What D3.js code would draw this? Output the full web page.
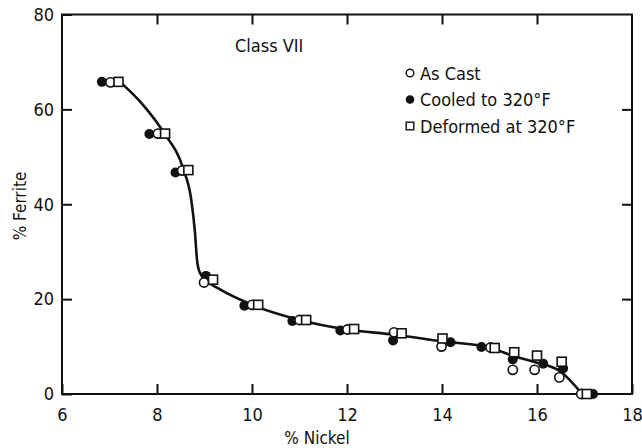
<!DOCTYPE html>
<html>
<head>
<meta charset="utf-8">
<script src="https://cdn.jsdelivr.net/npm/d3@7"></script>
<style>
  html, body { margin: 0; padding: 0; background: #fff; }
  svg { display: block; }
  text { font-family: "Liberation Sans Narrow", "DejaVu Sans Condensed", "Roboto Condensed", sans-serif; fill: #111; }
</style>
</head>
<body>
<svg id="chart" width="642" height="448"></svg>
<script>
// Ferrite content vs nickel content, Class VII alloys
const xTicks = [6, 8, 10, 12, 14, 16, 18];
const yTicks = [0, 20, 40, 60, 80];

// As cast
const asCastNi = [7.02, 8.02, 8.53, 8.99, 10.0, 11.0, 12.01, 12.99, 13.99, 15.02, 15.49, 15.95, 16.47, 16.93];
const asCastFe = [65.7, 54.9, 47.1, 23.5, 18.8, 15.6, 13.6, 13.0, 10.0, 9.8, 5.1, 5.1, 3.5, 0];

// Cooled to 320°F
const cooledNi = [6.84, 7.84, 8.39, 9.03, 9.84, 10.85, 11.86, 12.97, 14.18, 14.83, 15.49, 16.13, 16.55, 17.18];
const cooledFe = [65.8, 54.8, 46.7, 24.9, 18.6, 15.4, 13.4, 11.3, 10.9, 9.9, 7.3, 6.4, 5.4, 0];

// Deformed at 320°F
const deformedNi = [7.19, 8.17, 8.66, 9.18, 10.13, 11.14, 12.15, 13.15, 14.01, 15.11, 15.52, 16.0, 16.52, 17.05];
const deformedFe = [65.8, 54.9, 47.2, 24.1, 18.8, 15.6, 13.7, 12.8, 11.7, 9.7, 8.8, 8.1, 6.8, 0];

// Fitted trend curve
const curveNi = [7.2, 7.7, 8.15, 8.55, 8.72, 8.8, 8.84, 8.9, 9.05, 9.3, 10.0, 11.0, 12.0, 13.0, 14.0, 15.0, 15.5, 16.0, 16.5, 16.95];
const curveFe = [66, 61, 55, 47.5, 41, 34, 28.5, 25.6, 23.8, 22.2, 18.8, 15.6, 13.6, 12.5, 11.1, 9.8, 8.0, 6.6, 4.7, 0];

const svg = d3.select("#chart");
const plotL = 62, plotR = 632, plotT = 14.5, plotB = 394;

const x = d3.scaleLinear().domain([6, 18]).range([plotL, plotR]);
const y = d3.scaleLinear().domain([0, 80]).range([plotB, plotT]);

const tickLen = 10;

// frame
svg.append("rect")
  .attr("x", plotL).attr("y", plotT)
  .attr("width", plotR - plotL).attr("height", plotB - plotT)
  .attr("fill", "none").attr("stroke", "#111").attr("stroke-width", 2);

// inward ticks on all four sides, labels on bottom and left
const bottomAxis = d3.axisBottom(x).tickValues(xTicks).tickSizeInner(-tickLen).tickSizeOuter(0).tickPadding(14)
  .tickFormat(d3.format("d"));
const topAxis = d3.axisTop(x).tickValues(xTicks.slice(1, -1)).tickSizeInner(-tickLen).tickSizeOuter(0).tickFormat("");
const leftAxis = d3.axisLeft(y).tickValues(yTicks).tickSizeInner(-tickLen).tickSizeOuter(0).tickPadding(8)
  .tickFormat(d3.format("d"));
const rightAxis = d3.axisRight(y).tickValues(yTicks.slice(1, -1)).tickSizeInner(-tickLen).tickSizeOuter(0).tickFormat("");

function styleAxis(g) {
  g.select(".domain").remove();
  g.selectAll(".tick line").attr("stroke", "#111").attr("stroke-width", 2);
  g.selectAll(".tick text").attr("fill", "#111").style("font-size", "18px");
}

svg.append("g").attr("transform", `translate(0,${plotB})`).call(bottomAxis).call(styleAxis);
svg.append("g").attr("transform", `translate(0,${plotT})`).call(topAxis).call(styleAxis);
svg.append("g").attr("transform", `translate(${plotL},0)`).call(leftAxis).call(styleAxis);
svg.append("g").attr("transform", `translate(${plotR},0)`).call(rightAxis).call(styleAxis);

// axis titles
svg.append("text")
  .attr("x", (plotL + plotR) / 2 - 30).attr("y", 444)
  .attr("text-anchor", "middle").style("font-size", "17px")
  .text("% Nickel");
svg.append("text")
  .attr("transform", `translate(26,206) rotate(-90)`)
  .attr("text-anchor", "middle").style("font-size", "17px")
  .text("% Ferrite");

// chart label
svg.append("text")
  .attr("x", 235).attr("y", 52)
  .style("font-size", "18px")
  .text("Class VII");

// trend curve
const curvePts = curveNi.map((n, i) => [n, curveFe[i]]);
svg.append("path")
  .datum(curvePts)
  .attr("fill", "none").attr("stroke", "#111").attr("stroke-width", 2.6)
  .attr("d", d3.line().x(d => x(d[0])).y(d => y(d[1])).curve(d3.curveMonotoneX));

// markers
const zip = (a, b) => a.map((v, i) => [v, b[i]]);
const r = 4.6, sq = 9;

svg.append("g").selectAll("circle")
  .data(zip(cooledNi, cooledFe)).join("circle")
  .attr("cx", d => x(d[0])).attr("cy", d => y(d[1])).attr("r", r + 0.4)
  .attr("fill", "#111");

svg.append("g").selectAll("circle")
  .data(zip(asCastNi, asCastFe)).join("circle")
  .attr("cx", d => x(d[0])).attr("cy", d => y(d[1])).attr("r", r)
  .attr("fill", "#fff").attr("stroke", "#111").attr("stroke-width", 1.6);

svg.append("g").selectAll("rect")
  .data(zip(deformedNi, deformedFe)).join("rect")
  .attr("x", d => x(d[0]) - sq / 2).attr("y", d => y(d[1]) - sq / 2)
  .attr("width", sq).attr("height", sq)
  .attr("fill", "#fff").attr("stroke", "#111").attr("stroke-width", 1.6);

// legend
const legendItems = ["As Cast", "Cooled to 320°F", "Deformed at 320°F"];
const lg = svg.append("g");
legendItems.forEach((label, i) => {
  const cy = 73 + i * 26.5;
  const sx = 410;
  if (i === 0) {
    lg.append("circle").attr("cx", sx).attr("cy", cy).attr("r", 3.8)
      .attr("fill", "#fff").attr("stroke", "#111").attr("stroke-width", 1.4);
  } else if (i === 1) {
    lg.append("circle").attr("cx", sx).attr("cy", cy).attr("r", 4.3).attr("fill", "#111");
  } else {
    lg.append("rect").attr("x", sx - 3.8).attr("y", cy - 3.8).attr("width", 7.6).attr("height", 7.6)
      .attr("fill", "#fff").attr("stroke", "#111").attr("stroke-width", 1.4);
  }
  lg.append("text").attr("x", sx + 10).attr("y", cy + 6.5)
    .style("font-size", "18px").text(label);
});
</script>
</body>
</html>
